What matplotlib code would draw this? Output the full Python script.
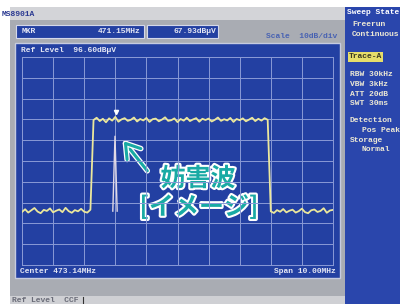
import numpy as np
import matplotlib
matplotlib.use("Agg")
import matplotlib.pyplot as plt
from matplotlib.patches import Rectangle
import matplotlib.patheffects as pe

# analyzer settings (as shown on screen)
CENTER_MHZ, SPAN_MHZ = 473.14, 10.0
REF_DBUV, DB_PER_DIV = 96.60, 10
MKR_MHZ, MKR_DBUV = 471.15, 67.93

# trace levels (dBuV), 101 sweep points across the span
NOISE_L = [22.1, 23.4, 21.8, 22.9, 24.0, 22.3, 21.5, 23.1, 22.6, 23.8, 21.9, 22.7,
           23.3, 22.0, 24.1, 22.5, 21.7, 23.0, 22.4, 23.6, 22.2, 21.8, 23.2]
PLATEAU = [66.3, 67.4, 65.8, 66.9, 65.2, 67.1, 66.0, 67.8, 65.5, 66.6,
           67.2, 65.9, 66.4, 67.5, 65.6, 66.8, 66.1, 67.3, 65.4, 66.7,
           67.0, 65.7, 66.5, 67.6, 65.9, 66.2, 67.1, 65.3, 66.8, 66.0,
           67.4, 65.8, 66.6, 67.2, 65.5, 66.9, 66.3, 67.0, 65.6, 66.4,
           67.5, 65.9, 66.7, 66.1, 67.3, 65.4, 66.8, 66.2, 67.1, 65.7,
           66.5, 67.4, 65.8, 66.9, 66.0, 67.2, 66.4]
NOISE_R = [22.4, 21.6, 23.0, 22.2, 23.5, 21.9, 22.7, 23.2, 21.8, 22.5, 23.7,
           22.0, 21.5, 22.9, 23.3, 22.1, 22.6, 23.9, 21.7, 22.8, 23.1]
# image (interference) spike, second trace
SPIKE_MHZ = [471.06, 471.13, 471.20]
SPIKE_DBUV = [22.5, 58.5, 22.5]

levels = NOISE_L + PLATEAU + NOISE_R
freqs = np.linspace(CENTER_MHZ - SPAN_MHZ / 2, CENTER_MHZ + SPAN_MHZ / 2, len(levels))

SCREEN, PANEL, GRAY = "#2340a2", "#2a46ac", "#a9acb3"
GRID, TRACE, TXT = "#8a9ad6", "#ece89c", "#e4e6f4"
TEAL = "#19aaa4"
MONO = dict(family="Liberation Mono", fontweight="bold", fontsize=5.8)

fig = plt.figure(figsize=(4, 3.04), dpi=100)
bg = fig.add_axes([0, 0, 1, 1])
bg.set_xlim(0, 400); bg.set_ylim(304, 0); bg.axis("off")

# instrument chrome
bg.add_patch(Rectangle((10, 7), 335, 297, fc=GRAY, ec="none"))
bg.add_patch(Rectangle((10, 7), 335, 13, fc="#d3d4d8", ec="none"))
bg.add_patch(Rectangle((10, 296), 335, 8, fc="#cfd0d4", ec="none"))
bg.add_patch(Rectangle((345, 7), 55, 297, fc=PANEL, ec="none"))
bg.add_patch(Rectangle((15, 43), 325, 235, fc=SCREEN, ec="#c6cbe0", lw=1))
bg.add_patch(Rectangle((16, 25), 128, 13, fc=SCREEN, ec="#d4d8ea", lw=0.8))
bg.add_patch(Rectangle((147, 25), 71, 13, fc=SCREEN, ec="#d4d8ea", lw=0.8))
bg.plot([83, 83], [297, 304], color="#333", lw=0.8)

bg.text(2, 14, "MS8901A", color="#2b3a92", va="center", **MONO)
bg.text(22, 31.5, "MKR", color=TXT, va="center", **MONO)
bg.text(141, 31.5, f"{MKR_MHZ:.2f}MHz", color=TXT, va="center", ha="right", **MONO)
bg.text(216, 31.5, f"{MKR_DBUV:.2f}dBμV", color=TXT, va="center", ha="right", **MONO)
bg.text(337, 37, f"Scale  {DB_PER_DIV}dB/div", color="#4862b2", va="center", ha="right", **MONO)
bg.text(21, 50, f"Ref Level  {REF_DBUV:.2f}dBμV", color=TXT, va="center", **MONO)
bg.text(20, 271.5, f"Center {CENTER_MHZ:.2f}MHz", color=TXT, va="center", **MONO)
bg.text(336, 271.5, f"Span {SPAN_MHZ:.2f}MHz", color=TXT, va="center", ha="right", **MONO)
bg.text(12, 300.5, "Ref Level  CCF", color="#6a6c78", va="center", **MONO)

# side menu
bg.text(347, 13, "Sweep State", color="white", va="center", **MONO)
side = [(352, 24, "Freerun"), (352, 34, "Continuous"),
        (350, 74, "RBW 30kHz"), (350, 84, "VBW 3kHz"), (350, 94, "ATT 20dB"),
        (350, 103.5, "SWT 30ms"), (350, 120, "Detection"), (362, 130, "Pos Peak"),
        (350, 140, "Storage"), (362, 149.5, "Normal")]
for x, y, s in side:
    bg.text(x, y, s, color="#ece8d4", va="center", **MONO)
bg.text(349, 57, "Trace-A", color="#3a3a20", va="center", **MONO,
        bbox=dict(boxstyle="square,pad=0.15", fc="#e6de6a", ec="none"))

# spectrum display
ax = fig.add_axes([22 / 400, 1 - 265 / 304, 311 / 400, 208 / 304])
ax.set_facecolor("none")
ax.set_xlim(CENTER_MHZ - SPAN_MHZ / 2, CENTER_MHZ + SPAN_MHZ / 2)
ax.set_ylim(REF_DBUV - 10 * DB_PER_DIV, REF_DBUV)
ax.set_xticks(np.linspace(*ax.get_xlim(), 11))
ax.set_yticks(np.linspace(*ax.get_ylim(), 11))
ax.grid(True, color=GRID, lw=0.7)
ax.tick_params(length=0, labelbottom=False, labelleft=False)
for sp in ax.spines.values():
    sp.set_color(GRID); sp.set_linewidth(0.7)
ax.plot(SPIKE_MHZ, SPIKE_DBUV, color="#e2dae6", lw=1.0, zorder=3)
ax.plot(freqs, levels, color=TRACE, lw=1.3, zorder=4)
ax.plot(MKR_MHZ, MKR_DBUV + 2.2, marker="v", ms=3, color="white", zorder=5)

# annotation
outline = [pe.withStroke(linewidth=3, foreground="white")]
jp = dict(family=["Noto Sans CJK JP", "DejaVu Sans"], fontweight="bold",
          color=TEAL, ha="center", va="center", path_effects=outline)
bg.text(198, 179, "妨害波", fontsize=18, **jp)
bg.text(199, 207, "[イメージ]", fontsize=18, **jp)
bg.annotate("", xy=(122, 139), xytext=(149, 173),
            arrowprops=dict(arrowstyle="->,head_length=0.7,head_width=0.45",
                            color=TEAL, lw=2.2, mutation_scale=14,
                            path_effects=[pe.withStroke(linewidth=4, foreground="white")]))

fig.savefig("out.png", dpi=100)
